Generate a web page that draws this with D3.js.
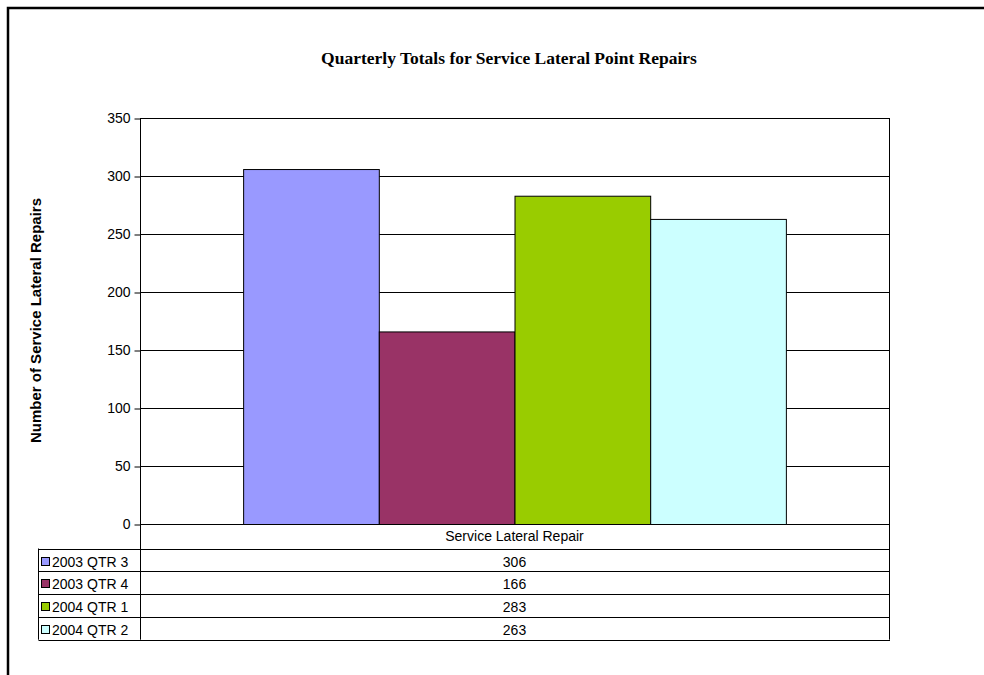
<!DOCTYPE html>
<html>
<head>
<meta charset="utf-8">
<script src="https://cdn.jsdelivr.net/npm/d3@7"></script>
<style>
  body { margin: 0; background: #fff; }
  svg { display: block; }
</style>
</head>
<body>
<div id="chart"></div>
<script>
// data
var series = ["2003 QTR 3", "2003 QTR 4", "2004 QTR 1", "2004 QTR 2"];
var values = [306, 166, 283, 263];
var colors = ["#9999FF", "#993366", "#99CC00", "#CCFFFF"];
var category = "Service Lateral Repair";
var yTicks = [0, 50, 100, 150, 200, 250, 300, 350];

var width = 984, height = 675;
var plot = { left: 140, right: 889, top: 118, bottom: 524 };
var rowH = 22.8, headH = 24.5;
var sans = '"Liberation Sans", Arial, sans-serif';

var svg = d3.select('#chart').append('svg')
    .attr('width', width)
    .attr('height', height);

// outer frame (top + left only, the rest is clipped in the original)
svg.append('path')
    .attr('d', 'M8,' + height + 'V8H' + width)
    .attr('fill', 'none')
    .attr('stroke', '#000')
    .attr('stroke-width', 2.5);

svg.append('text')
    .attr('x', 509)
    .attr('y', 64)
    .attr('text-anchor', 'middle')
    .style('font-family', '"Liberation Serif", "Times New Roman", serif')
    .style('font-weight', 'bold')
    .style('font-size', '17.5px')
    .text('Quarterly Totals for Service Lateral Point Repairs');

var y = d3.scaleLinear().domain([0, 350]).range([plot.bottom, plot.top]);

// band for the single category, with inner band for the four series
var x0 = d3.scaleBand().domain([category]).range([plot.left, plot.right]).paddingInner(0).paddingOuter(0.19);
var x1 = d3.scaleBand().domain(series).range([0, x0.bandwidth()]);

// gridlines
svg.append('g').selectAll('line')
    .data(yTicks.filter(function(d) { return d > 0; }))
    .enter().append('line')
    .attr('x1', plot.left).attr('x2', plot.right)
    .attr('y1', function(d) { return Math.round(y(d)) + 0.5; })
    .attr('y2', function(d) { return Math.round(y(d)) + 0.5; })
    .attr('stroke', '#000');

// plot border
svg.append('rect')
    .attr('x', plot.left + 0.5).attr('y', plot.top + 0.5)
    .attr('width', plot.right - plot.left).attr('height', plot.bottom - plot.top)
    .attr('fill', 'none').attr('stroke', '#000');

// bars
svg.append('g').selectAll('rect')
    .data(values)
    .enter().append('rect')
    .attr('x', function(d, i) { return x0(category) + x1(series[i]) + 0.5; })
    .attr('y', function(d) { return y(d) + 0.5; })
    .attr('width', x1.bandwidth())
    .attr('height', function(d) { return plot.bottom - y(d); })
    .attr('fill', function(d, i) { return colors[i]; })
    .attr('stroke', '#000')
    .attr('stroke-width', 1);

// y axis
var yAxis = d3.axisLeft(y).tickValues(yTicks).tickSize(6).tickPadding(4);
var ga = svg.append('g')
    .attr('transform', 'translate(' + (plot.left + 0.5) + ',0.5)')
    .call(yAxis);
ga.select('.domain').remove();
ga.selectAll('line').attr('stroke', '#000');
ga.selectAll('text')
    .style('font-family', sans)
    .style('font-size', '14px')
    .attr('fill', '#000');

svg.append('text')
    .attr('transform', 'translate(40.5,320.5) rotate(-90)')
    .attr('text-anchor', 'middle')
    .style('font-family', sans)
    .style('font-weight', 'bold')
    .style('font-size', '15px')
    .text('Number of Service Lateral Repairs');

// data table under the plot
var tableLeft = 38.5;
var tbl = svg.append('g')
    .style('font-family', sans)
    .style('font-size', '14px');
var rowY = function(i) { return plot.bottom + headH + i * rowH; };
var tableBottom = rowY(series.length);
var midX = (plot.left + plot.right) / 2;

tbl.append('text')
    .attr('x', midX).attr('y', plot.bottom + 17)
    .attr('text-anchor', 'middle')
    .text(category);

// vertical lines
tbl.append('line')
    .attr('x1', plot.left + 0.5).attr('x2', plot.left + 0.5)
    .attr('y1', plot.bottom).attr('y2', tableBottom)
    .attr('stroke', '#000');
tbl.append('line')
    .attr('x1', plot.right + 0.5).attr('x2', plot.right + 0.5)
    .attr('y1', plot.bottom).attr('y2', tableBottom)
    .attr('stroke', '#000');
tbl.append('line')
    .attr('x1', tableLeft).attr('x2', tableLeft)
    .attr('y1', rowY(0)).attr('y2', tableBottom)
    .attr('stroke', '#000');

// horizontal row lines
tbl.selectAll('line.row')
    .data(d3.range(series.length + 1))
    .enter().append('line')
    .attr('class', 'row')
    .attr('x1', tableLeft).attr('x2', plot.right + 1)
    .attr('y1', function(i) { return Math.round(rowY(i)) + 0.5; })
    .attr('y2', function(i) { return Math.round(rowY(i)) + 0.5; })
    .attr('stroke', '#000');

var rows = tbl.selectAll('g.srow')
    .data(series)
    .enter().append('g')
    .attr('class', 'srow')
    .attr('transform', function(d, i) { return 'translate(0,' + Math.round(rowY(i)) + ')'; });

rows.append('rect')
    .attr('x', 41.5).attr('y', 8.5)
    .attr('width', 8).attr('height', 8)
    .attr('fill', function(d, i) { return colors[i]; })
    .attr('stroke', '#000');

rows.append('text')
    .attr('x', 52).attr('y', 17.5)
    .text(function(d) { return d; });

rows.append('text')
    .attr('x', midX).attr('y', 17.5)
    .attr('text-anchor', 'middle')
    .text(function(d, i) { return values[i]; });
</script>
</body>
</html>
